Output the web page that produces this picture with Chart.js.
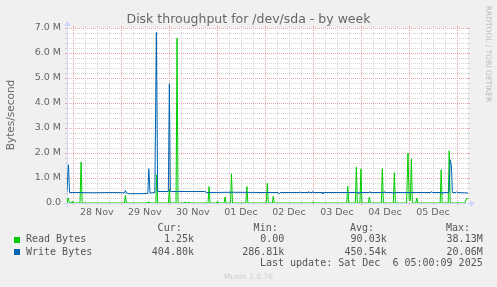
<!DOCTYPE html>
<html><head><meta charset="utf-8">
<script src="https://cdn.jsdelivr.net/npm/chart.js@4.4.1/dist/chart.umd.min.js"></script>
<style>
html,body{margin:0;padding:0;background:#f0f0f0;}
#wrap{position:relative;width:497px;height:287px;overflow:hidden;background:#f0f0f0;}
canvas{position:absolute;left:0;top:0;}
.t{position:absolute;white-space:pre;color:#666;}
.mono{font-family:'DejaVu Sans Mono',monospace;font-size:10px;line-height:12px;color:#555;}
.sq{position:absolute;width:6px;height:6px;}
</style></head>
<body><div id="wrap">
<canvas id="c" width="497" height="287"></canvas>
<div class="t" style="left:0;width:497px;text-align:center;top:11.5px;font:12.5px/14px 'DejaVu Sans';color:#666;">Disk throughput for /dev/sda - by week</div>
<div class="t" style="left:-39.6px;width:100px;text-align:center;top:109px;font:10.5px/12px 'DejaVu Sans';transform:rotate(-90deg);">Bytes/second</div>
<div class="t" style="left:437.5px;width:100px;text-align:center;top:48.5px;font:7.5px/10px 'DejaVu Sans';color:#bbb;transform:rotate(90deg);">RRDTOOL / TOBI OETIKER</div>
<div id="legend"></div>
<div class="t" style="left:0;width:497px;text-align:center;top:272px;font:7.5px/9px 'DejaVu Sans';color:#ccc;">Munin 2.0.76</div>
</div>
<script>
// ---- data (hours from 28 Nov 00:00, values in MB/s) ----
const dayLabels = ['28 Nov','29 Nov','30 Nov','01 Dec','02 Dec','03 Dec','04 Dec','05 Dec'];
const yTickValues = [0,1,2,3,4,5,6,7];
const yTickLabels = ['0.0','1.0 M','2.0 M','3.0 M','4.0 M','5.0 M','6.0 M','7.0 M'];
const xRange = [-2.9, 197.5];

const readPoints = [
  [-2.9,0],[-2.3,0.2],[-1.7,0],[-0.7,0],[-0.35,0.06],[0,0],
  [3.6,0],[4.15,1.64],[4.7,0],
  [25.8,0],[26.3,0.3],[26.8,0],
  [37.2,0],[37.6,0.05],[38.0,0],
  [41.5,0],[41.95,1.13],[42.4,0],
  [47.8,0],[48.25,0.56],[48.7,0],
  [51.6,0],[52.1,6.6],[52.6,0],
  [55.8,0],[56.2,0.05],[56.6,0],
  [57.5,0],[57.9,0.05],[58.3,0],
  [67.6,0],[68.1,0.66],[68.6,0],
  [71.7,0],[72.1,0.05],[72.5,0],
  [75.6,0],[76.1,0.24],[76.6,0],
  [78.8,0],[79.3,1.17],[79.8,0],
  [86.5,0],[87.0,0.66],[87.5,0],
  [96.7,0],[97.2,0.8],[97.7,0],
  [99.7,0],[100.2,0.27],[100.7,0],
  [119.6,0],[120.0,0.05],[120.4,0],
  [136.9,0],[137.4,0.66],[137.9,0],
  [141.2,0],[141.7,1.43],[142.2,0],
  [143.5,0],[144.0,1.37],[144.5,0],
  [147.7,0],[148.2,0.24],[148.7,0],
  [154.2,0],[154.7,1.37],[155.2,0],
  [160.2,0],[160.7,1.21],[161.2,0],
  [166.8,0],[167.5,2.0],[168.1,0.1],[168.7,0.1],[169.2,1.77],[169.7,0],
  [171.4,0],[171.9,0.2],[172.4,0],
  [183.6,0],[184.1,1.33],[184.6,0],
  [187.6,0],[188.1,2.09],[188.6,0],
  [192.1,0],[192.5,0.03],[192.9,0],
  [195.9,0],[197.0,0.2],[197.5,0.15]
];

const writePoints = [
  [-2.9,0.45],[-2.2,1.53],[-1.6,0.42],
  [2,0.42],[10,0.41],[20,0.42],[25.8,0.41],[26.3,0.5],[26.8,0.40],[28.5,0.37],
  [37.5,0.38],[38.0,1.37],[38.6,0.40],[41.0,0.42],[41.75,6.82],[42.4,0.46],
  [47.75,0.46],[48.25,4.77],[48.75,0.46],
  [66,0.46],[67,0.42],[80,0.43],[95,0.42],[102.7,0.42],[103.2,0.36],[103.7,0.42],
  [113.2,0.42],[113.5,0.45],[113.8,0.42],[117.6,0.42],[117.9,0.46],[118.2,0.42],
  [119.6,0.42],[119.9,0.46],[120.2,0.42],[124.7,0.42],[125.0,0.36],[125.3,0.42],
  [142.3,0.42],[142.6,0.37],[142.9,0.42],[148.2,0.42],[148.5,0.46],[148.8,0.42],
  [155.3,0.42],[155.6,0.45],[155.9,0.42],[159.8,0.42],[160.1,0.37],[160.4,0.42],
  [179.0,0.42],[179.3,0.46],[179.6,0.42],[184.3,0.42],[184.6,0.37],[184.9,0.42],
  [188.0,0.42],[188.6,1.73],[189.2,1.5],[189.7,0.42],
  [191.5,0.42],[191.8,0.45],[192.1,0.42],[197.5,0.40]
];

const legendHeaders = ['Cur:','Min:','Avg:','Max:'];
const seriesNames = ['Read Bytes','Write Bytes'];
const seriesColors = ['#00cc00','#0066b3'];
const legendStats = [
  ['1.25k','0.00','90.03k','38.13M'],
  ['404.80k','286.81k','450.54k','20.06M']
];
const lastUpdate = 'Last update: Sat Dec  6 05:00:09 2025';

// ---- legend (HTML text) ----
(function(){
  const L = document.getElementById('legend');
  const hdrRight = [181.7,277.7,374,470];
  const valRight = [194,284.3,386.7,482.7];
  const rowTop = [233.3,245.7];
  let h = '';
  legendHeaders.forEach((t,i)=>{ h += `<div class="t mono" style="right:${497-hdrRight[i]}px;top:221.7px;">${t}</div>`; });
  seriesNames.forEach((n,r)=>{
    h += `<div class="sq" style="left:14px;top:${237+12*r}px;background:${seriesColors[r]}"></div>`;
    h += `<div class="t mono" style="left:26px;top:${rowTop[r]}px;">${n}</div>`;
    legendStats[r].forEach((v,i)=>{ h += `<div class="t mono" style="right:${497-valRight[i]}px;top:${rowTop[r]}px;">${v}</div>`; });
  });
  h += `<div class="t mono" style="right:${497-482.7}px;top:257.3px;">${lastUpdate}</div>`;
  L.innerHTML = h;
})();

// ---- grid / axis plugin ----
const MGRID = '#e9a3a3', GRID = '#d2d2d2', AXIS = '#cfd6f8';
const munGrid = {
  id: 'munGrid',
  beforeDatasetsDraw(chart) {
    const {ctx, chartArea: a, scales: {x, y}} = chart;
    ctx.save();
    ctx.fillStyle = '#ffffff';
    ctx.fillRect(a.left, a.top, a.right - a.left, a.bottom - a.top);
    ctx.lineWidth = 1;
    const line = (x1,y1,x2,y2,c,dash) => {
      ctx.beginPath(); ctx.setLineDash(dash||[]); ctx.strokeStyle = c;
      ctx.moveTo(x1,y1); ctx.lineTo(x2,y2); ctx.stroke();
    };
    // horizontal
    for (let k = 0; k <= 35; k++) {
      const v = k * 0.2;
      const py = Math.round(y.getPixelForValue(v)) + 0.5;
      const c = (k % 5 === 0) ? MGRID : GRID;
      if (k !== 0) line(a.left, py, a.right, py, c, [1,1]);
      line(a.left - 2, py, a.left, py, c);
      line(a.right, py, a.right + 2, py, c);
    }
    // vertical
    const start = Math.ceil(x.min / 6) * 6;
    for (let hh = start; hh <= x.max; hh += 6) {
      const px = Math.round(x.getPixelForValue(hh)) + 0.5;
      const c = (hh % 24 === 0) ? MGRID : GRID;
      line(px, a.top, px, a.bottom, c, [1,1]);
      line(px, a.top - 2, px, a.top, c);
      line(px, a.bottom, px, a.bottom + 2, c);
    }
    // axes
    const ox = Math.round(a.left) + 0.5, oy = Math.round(a.bottom) + 0.5;
    line(ox - 4, oy, a.right + 4, oy, AXIS);
    line(ox, oy + 4, ox, a.top - 4, AXIS);
    ctx.setLineDash([]);
    ctx.fillStyle = AXIS;
    ctx.beginPath();
    ctx.moveTo(a.right + 2, oy - 3.5); ctx.lineTo(a.right + 2, oy + 3.5); ctx.lineTo(a.right + 7, oy); ctx.closePath(); ctx.fill();
    ctx.beginPath();
    ctx.moveTo(ox - 3.5, a.top - 2); ctx.lineTo(ox + 3.5, a.top - 2); ctx.lineTo(ox, a.top - 7); ctx.closePath(); ctx.fill();
    ctx.restore();
  }
};

const tickFont = {family: 'DejaVu Sans', size: 9.5};
new Chart(document.getElementById('c'), {
  type: 'line',
  data: {
    datasets: [
      {label: seriesNames[0], data: readPoints.map(p => ({x: p[0], y: p[1]})),
       borderColor: seriesColors[0], borderWidth: 1, pointRadius: 0, tension: 0, fill: false, order: 1},
      {label: seriesNames[1], data: writePoints.map(p => ({x: p[0], y: p[1]})),
       borderColor: seriesColors[1], borderWidth: 1, pointRadius: 0, tension: 0, fill: false, order: 0}
    ]
  },
  options: {
    responsive: false, animation: false, devicePixelRatio: 1,
    layout: {padding: {left: 0, top: 28, right: 29, bottom: 0}},
    plugins: {legend: {display: false}, title: {display: false}, tooltip: {enabled: false}},
    scales: {
      x: {
        type: 'linear', min: xRange[0], max: xRange[1],
        grid: {display: false, drawTicks: false}, border: {display: false},
        afterBuildTicks: s => { s.ticks = dayLabels.map((_, i) => ({value: 12 + 24 * i})); },
        afterFit: s => { s.height = 84; },
        ticks: {autoSkip: false, maxRotation: 0, minRotation: 0, padding: 3.5, color: '#666', font: tickFont,
                callback: (v, i) => dayLabels[i]}
      },
      y: {
        type: 'linear', min: 0, max: 7,
        grid: {display: false, drawTicks: false}, border: {display: false},
        afterBuildTicks: s => { s.ticks = yTickValues.map(v => ({value: v})); },
        afterFit: s => { s.width = 67; },
        ticks: {autoSkip: false, padding: 6, color: '#666', font: tickFont,
                callback: (v, i) => yTickLabels[i]}
      }
    }
  },
  plugins: [munGrid]
});
</script>
</body></html>
